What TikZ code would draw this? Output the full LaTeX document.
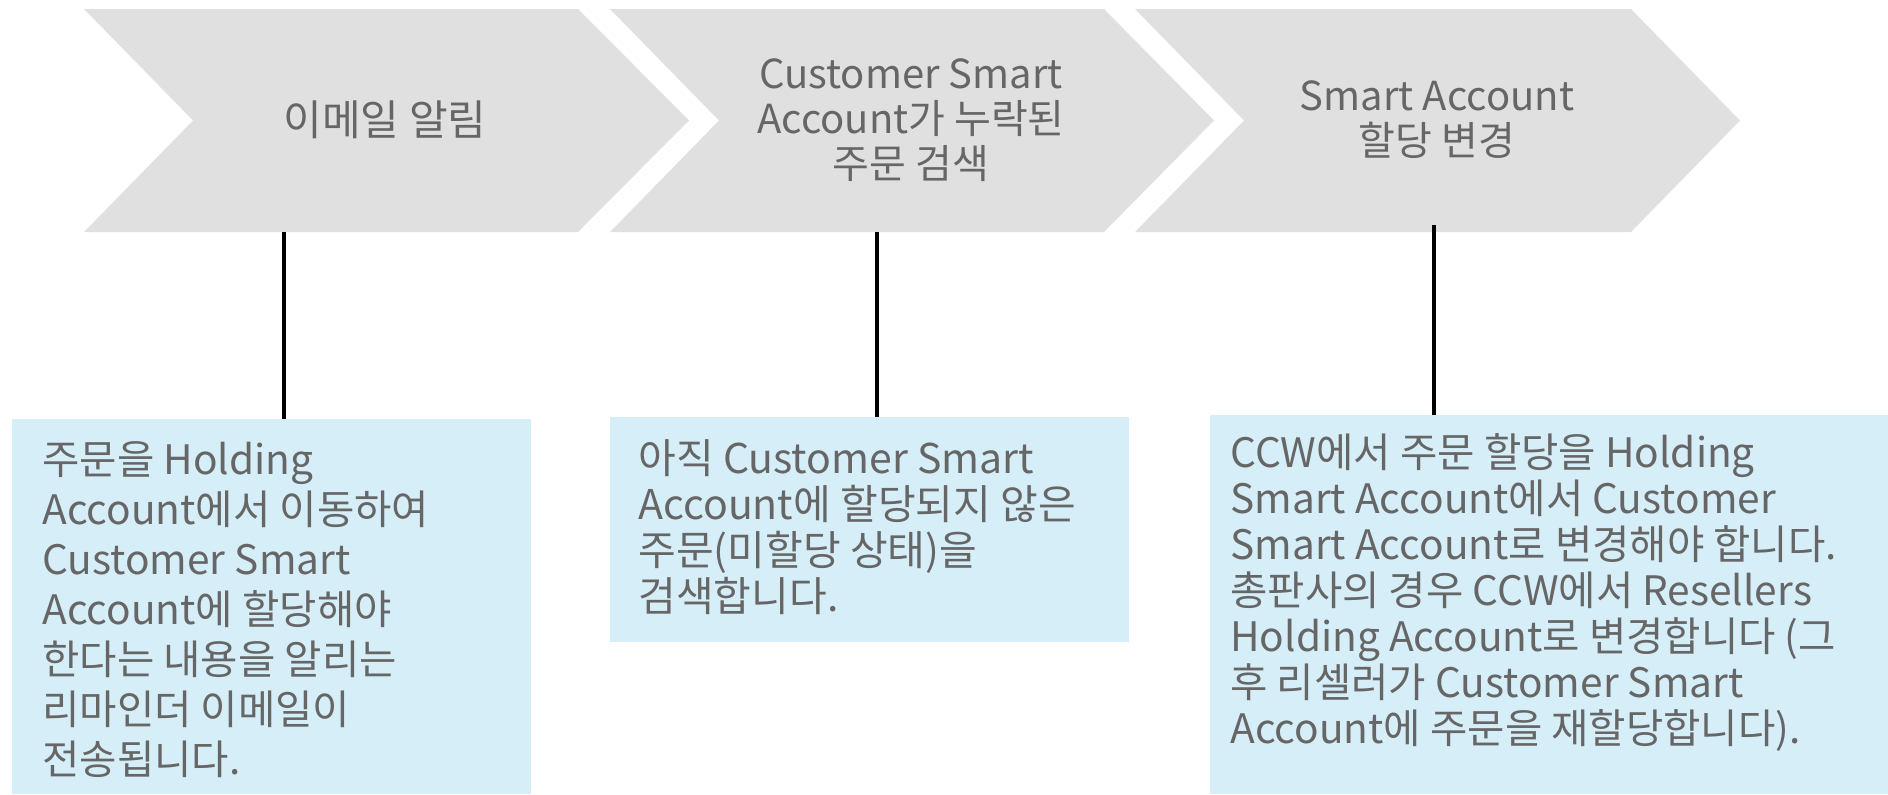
\documentclass[tikz,border=0pt]{standalone}
\usepackage{fontspec}
\setmainfont{Noto Sans CJK KR}
\usetikzlibrary{positioning}

\definecolor{chevgray}{HTML}{E0E0E0}
\definecolor{notebg}{HTML}{D6EEF8}
\definecolor{txtgray}{HTML}{666666}

\tikzset{
  chev/.style={fill=chevgray},
  title/.style={text=txtgray, align=center, font=\fontsize{20}{22.5}\selectfont},
  notebox/.style={fill=notebg, anchor=north west, inner sep=0pt},
  note/.style={text=txtgray, align=left, anchor=north west, inner sep=0pt,
    font=\fontsize{20.3}{23}\selectfont},
  link/.style={line width=1.6pt}
}

\begin{document}
\begin{tikzpicture}[x=0.5pt, y=-0.5pt]
\useasboundingbox (0,0) rectangle (1888,794);
\fill[chev] (84,9) -- (578,9) -- (689,120.5) -- (578,232) -- (84,232) -- (193,120.5) -- cycle;
\fill[chev] (610,9) -- (1104,9) -- (1214,120.5) -- (1104,232) -- (610,232) -- (719,120.5) -- cycle;
\fill[chev] (1135,9) -- (1631,9) -- (1740,120.5) -- (1631,232) -- (1135,232) -- (1244,120.5) -- cycle;
\node[title, font=\fontsize{21}{22.5}\selectfont] (s1) at (385,120) {이메일 알림};
\node[title] (s2) at (911,120) {Customer Smart\\Account가 누락된\\주문 검색};
\node[title] (s3) at (1437,120) {Smart Account\\할당 변경};
\node[notebox, minimum width=259.5pt, minimum height=187.5pt] (b1) at (12,419) {};
\node[notebox, minimum width=259.5pt, minimum height=112.5pt] (b2) at (610,417) {};
\node[notebox, minimum width=339pt, minimum height=189.5pt] (b3) at (1210,415) {};
\node[note, font=\fontsize{20.3}{25}\selectfont] (t1) at ([xshift=15pt, yshift=-11pt]b1.north west)
  {주문을 Holding\\Account에서 이동하여\\Customer Smart\\Account에 할당해야\\한다는 내용을 알리는\\리마인더 이메일이\\전송됩니다.};
\node[note, font=\fontsize{20.5}{23}\selectfont] (t2) at ([xshift=14pt, yshift=-11pt]b2.north west)
  {아직 Customer Smart\\Account에 할당되지 않은\\주문(미할당 상태)을\\검색합니다.};
\node[note] (t3) at ([xshift=10pt, yshift=-9pt]b3.north west)
  {CCW에서 주문 할당을 Holding\\Smart Account에서 Customer\\Smart Account로 변경해야 합니다.\\총판사의 경우 CCW에서 Resellers\\Holding Account로 변경합니다 (그\\후 리셀러가 Customer Smart\\Account에 주문을 재할당합니다).};
% links from the steps down to the notes
\coordinate (c1) at (284,232);
\coordinate (c2) at (877,232);
\coordinate (c3) at (1434,225);
\draw[link] (c1) -- (c1 |- b1.north);
\draw[link] (c2) -- (c2 |- b2.north);
\draw[link] (c3) -- (c3 |- b3.north);
\end{tikzpicture}
\end{document}
